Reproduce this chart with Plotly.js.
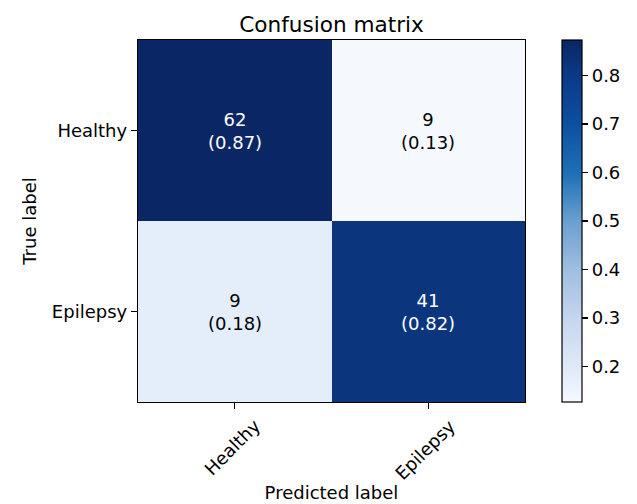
<!DOCTYPE html>
<html>
<head>
<meta charset="utf-8">
<script src="https://cdn.plot.ly/plotly-3.0.1.min.js"></script>
<style>html,body{margin:0;padding:0;background:#fff;}#chart{width:637px;height:504px;}</style>
</head>
<body>
<div id="chart"></div>
<script>
// ---- data ----
const trueLabels = ['Healthy', 'Epilepsy'];
const predLabels = ['Healthy', 'Epilepsy'];
const counts = [
  [62, 9],
  [9, 41]
];
const colorbarTicks = [0.2, 0.3, 0.4, 0.5, 0.6, 0.7, 0.8];
const chartTitle = 'Confusion matrix';
const xTitle = 'Predicted label';
const yTitle = 'True label';

// row-normalised matrix
const norm = counts.map(row => {
  const s = row.reduce((a, b) => a + b, 0);
  return row.map(v => v / s);
});
const maxVal = Math.max(...norm.flat());
const thresh = maxVal / 2;

// Blues-like colour scale, tuned to the reference's rendering
const blues = [
  [0.0, '#f5f9fe'], [0.07, '#e4eefa'], [0.1, '#dfe8f6'], [0.23, '#c5d6ee'],
  [0.37, '#9ebde0'], [0.5, '#6a9fd0'], [0.63, '#1f70b6'], [0.77, '#0d4f9f'],
  [0.9, '#0a3a88'], [0.93, '#0b357d'], [1.0, '#0a2665']
];

const FONT = 'DejaVu Sans, Liberation Sans, sans-serif';

const trace = {
  type: 'heatmap',
  x: predLabels,
  y: trueLabels,
  z: norm,
  colorscale: blues,
  showscale: true,
  hoverinfo: 'skip',
  colorbar: {
    x: (562 - 138) / 387, xanchor: 'left', xpad: 0,
    y: 0.5, yanchor: 'middle', ypad: 0, len: 1, lenmode: 'fraction',
    thickness: 20, thicknessmode: 'pixels',
    outlinewidth: 1.2, outlinecolor: '#000',
    tickmode: 'array', tickvals: colorbarTicks, ticktext: colorbarTicks.map(v => v.toFixed(1)),
    ticks: 'outside', ticklen: 6, tickwidth: 1.2, tickcolor: '#000',
    tickfont: { family: FONT, size: 18, color: '#000' }
  }
};

const annotations = [];
for (let i = 0; i < trueLabels.length; i++) {
  for (let j = 0; j < predLabels.length; j++) {
    annotations.push({
      x: predLabels[j], y: trueLabels[i], xref: 'x', yref: 'y',
      text: counts[i][j] + '<br>(' + norm[i][j].toFixed(2) + ')',
      showarrow: false,
      font: { family: FONT, size: 18, color: norm[i][j] > thresh ? '#ffffff' : '#000000' }
    });
  }
}
// rotated x tick labels (matplotlib-style, centred on tick)
predLabels.forEach(lbl => {
  annotations.push({
    x: lbl, xref: 'x', y: 0, yref: 'paper',
    text: lbl, textangle: -45, showarrow: false,
    xanchor: 'center', yanchor: 'top', yshift: -10, xshift: -3,
    font: { family: FONT, size: 18, color: '#000' }
  });
});

const layout = {
  width: 637, height: 504,
  margin: { l: 138, r: 112, t: 40, b: 102 },
  paper_bgcolor: '#fff', plot_bgcolor: '#fff',
  font: { family: FONT, size: 18, color: '#000' },
  title: {
    text: chartTitle, x: 0.5 * 387 / 637 + 138 / 637, xanchor: 'center',
    y: 1 - 24 / 504, yanchor: 'middle', yref: 'container',
    font: { family: FONT, size: 21.6, color: '#000' }
  },
  xaxis: {
    type: 'category', showticklabels: false,
    ticks: 'outside', ticklen: 6, tickwidth: 1.2, tickcolor: '#000',
    showline: true, linecolor: '#000', linewidth: 1.2, mirror: true,
    showgrid: false, zeroline: false,
    title: { text: xTitle, standoff: 78, font: { family: FONT, size: 18, color: '#000' } }
  },
  yaxis: {
    type: 'category', autorange: 'reversed',
    ticks: 'outside', ticklen: 6, tickwidth: 1.2, tickcolor: '#000',
    showline: true, linecolor: '#000', linewidth: 1.2, mirror: true,
    showgrid: false, zeroline: false,
    tickfont: { family: FONT, size: 18, color: '#000' },
    title: { text: yTitle, standoff: 10, font: { family: FONT, size: 18, color: '#000' } }
  },
  annotations: annotations
};

Plotly.newPlot('chart', [trace], layout, { displayModeBar: false, staticPlot: true });
</script>
</body>
</html>
